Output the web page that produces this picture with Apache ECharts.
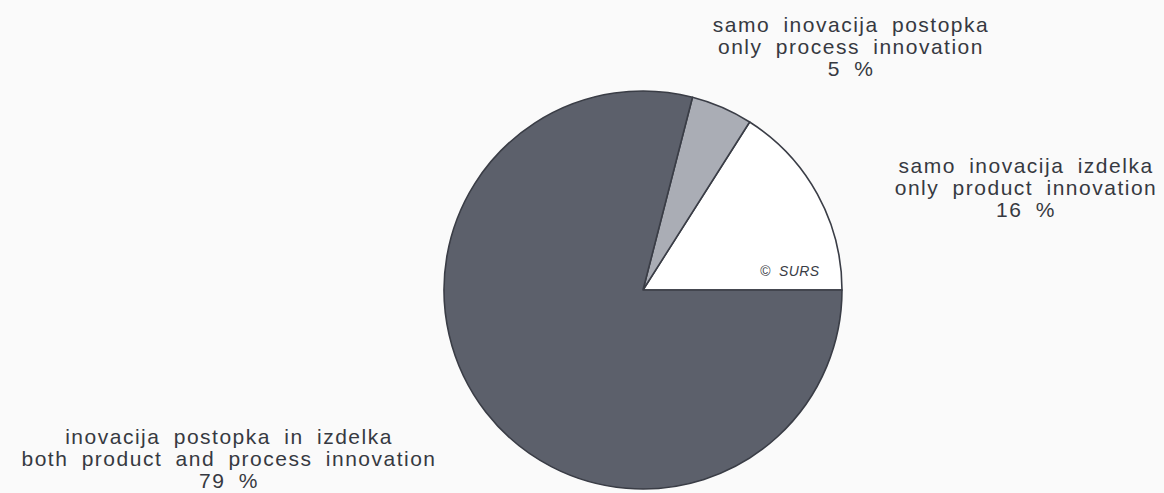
<!DOCTYPE html>
<html>
<head>
<meta charset="utf-8">
<script src="https://cdn.jsdelivr.net/npm/echarts@6/dist/echarts.min.js"></script>
<style>
  html, body { margin: 0; padding: 0; background: #fafafa; }
  #chart { width: 1164px; height: 493px; }
  /* wide-tracked label lettering */
  #chart text { letter-spacing: 1.5px; word-spacing: 6px; }
  /* copyright mark keeps tighter tracking */
  #chart text[style*="italic"] { letter-spacing: 0.4px; word-spacing: 4px; }
</style>
</head>
<body>
<div id="chart"></div>
<script>
// Innovation type shares (%)
const namesSl = ['samo inovacija izdelka', 'samo inovacija postopka', 'inovacija postopka in izdelka'];
const namesEn = ['only product innovation', 'only process innovation', 'both product and process innovation'];
const shares = [16, 5, 79];
const sliceColors = ['#ffffff', '#aaadb5', '#5c606b'];

// label anchor points (centre of each three-line label block)
const labelAnchors = [[1026, 187], [851, 46], [229, 458]];

const chart = echarts.init(document.getElementById('chart'), null, { renderer: 'svg' });

const data = shares.map((v, i) => ({
  value: v,
  name: namesSl[i] + '\n' + namesEn[i],
  itemStyle: { color: sliceColors[i] }
}));

chart.setOption({
  backgroundColor: '#fafafa',
  animation: false,
  series: [{
    type: 'pie',
    center: [643, 290],
    radius: 199,
    startAngle: 0,
    clockwise: false,
    avoidLabelOverlap: false,
    itemStyle: { borderColor: '#3a3d46', borderWidth: 1.6 },
    label: {
      show: true,
      formatter: p => p.name + '\n' + p.value + ' %',
      fontFamily: 'Liberation Sans, Arial, sans-serif',
      fontSize: 21,
      lineHeight: 22,
      color: '#363941',
      align: 'center'
    },
    labelLine: { show: false },
    labelLayout: p => ({
      x: labelAnchors[p.dataIndex][0],
      y: labelAnchors[p.dataIndex][1],
      align: 'center',
      verticalAlign: 'middle'
    }),
    emphasis: { disabled: true },
    data: data
  }],
  graphic: [{
    type: 'text',
    z: 100,
    left: 760,
    top: 264,
    style: {
      text: '© SURS',
      fontFamily: 'Liberation Sans, Arial, sans-serif',
      fontStyle: 'italic',
      fontSize: 14,
      fill: '#3a3d46'
    }
  }]
});
</script>
</body>
</html>
